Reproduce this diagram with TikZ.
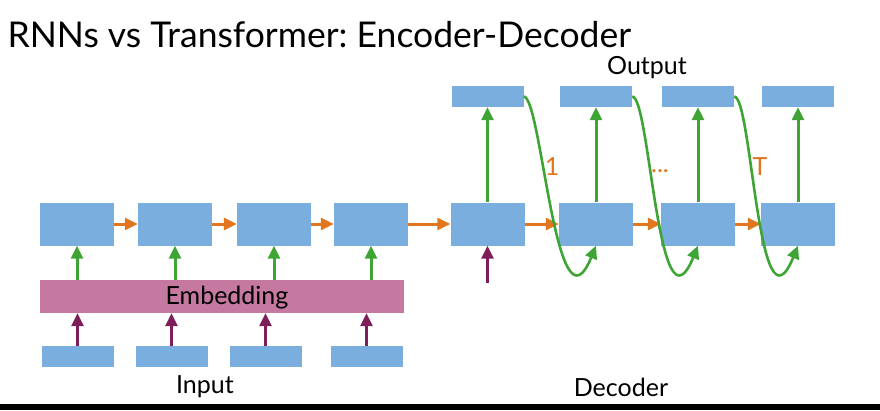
\documentclass[tikz,border=0pt]{standalone}
\usepackage{fontspec}
\setmainfont{Lato}
\usetikzlibrary{arrows.meta}
\definecolor{boxblue}{RGB}{122,174,222}
\definecolor{embpink}{RGB}{197,120,160}
\definecolor{arrgreen}{RGB}{62,165,52}
\definecolor{arrorange}{RGB}{226,118,31}
\definecolor{arrpurple}{RGB}{125,30,90}
\frenchspacing
\begin{document}
\begin{tikzpicture}[x=1pt,y=-1pt,
  cell/.style={fill=boxblue, minimum width=74pt, minimum height=43pt, inner sep=0pt},
  token/.style={fill=boxblue, minimum width=72pt, minimum height=21pt, inner sep=0pt},
  lbl/.style={font=\fontsize{25}{28}\selectfont},
  tip/.style={-{Triangle[length=13pt, width=12pt]}, line width=3pt},
  hid/.style={tip, arrorange},
  up/.style={tip, arrgreen},
  feed/.style={tip, arrpurple}]
\useasboundingbox (0,0) rectangle (880,410);
\fill[black] (0,404) rectangle (880,410);
\node[anchor=west, font=\fontsize{35.5}{40}\selectfont] (title) at (4,35) {RNNs vs Transformer: Encoder-Decoder};
% encoder
\foreach \x[count=\i] in {77,175,274,371}
  \node[cell] (enc\i) at (\x,224) {};
\foreach \x[count=\i] in {77.5,171.5,265.5,366.5}
  \node[token] (in\i) at (\x,356.5) {};
\node[fill=embpink, minimum width=364pt, minimum height=33pt, inner sep=0pt, lbl] (emb) at (222,296.5) {};
\node[lbl] (embtxt) at (227,298) {Embedding};
\foreach \i in {1,...,4}{
  \draw[up] (emb.north -| enc\i) -- (enc\i.south);
  \draw[feed] (in\i.north) -- (emb.south -| in\i);
}
\foreach \i/\j in {1/2,2/3,3/4}
  \draw[hid] (enc\i.east) -- (enc\j.west);
% decoder
\foreach \x[count=\i] in {487.5,596,698,798}{
  \node[cell] (dec\i) at (\x,224) {};
  \node[token] (out\i) at (\x,96.5) {};
  \draw[up] (dec\i.north) -- (out\i.south);
}
\draw[hid] (enc4.east) -- (dec1.west);
\coordinate (decin) at (487.5,283);
\draw[feed] (decin) -- (dec1.south);
\foreach \i/\j in {1/2,2/3,3/4}{
  \draw[hid] (dec\i.east) -- (dec\j.west);
  \draw[up, line width=2.6pt] (out\i.east) .. controls +(18,0) and +(-40,98) .. (dec\j.south);
}
\node[lbl, arrorange] (one) at (552,167) {1};
\node[lbl, arrorange] (dots) at (660,171) {...};
\node[lbl, arrorange] (last) at (760,167) {T};
\node[lbl] (outlbl) at (647,68) {Output};
\node[lbl] (inlbl) at (205,387) {Input};
\node[lbl] (declbl) at (621,387) {Decoder};
\end{tikzpicture}
\end{document}
